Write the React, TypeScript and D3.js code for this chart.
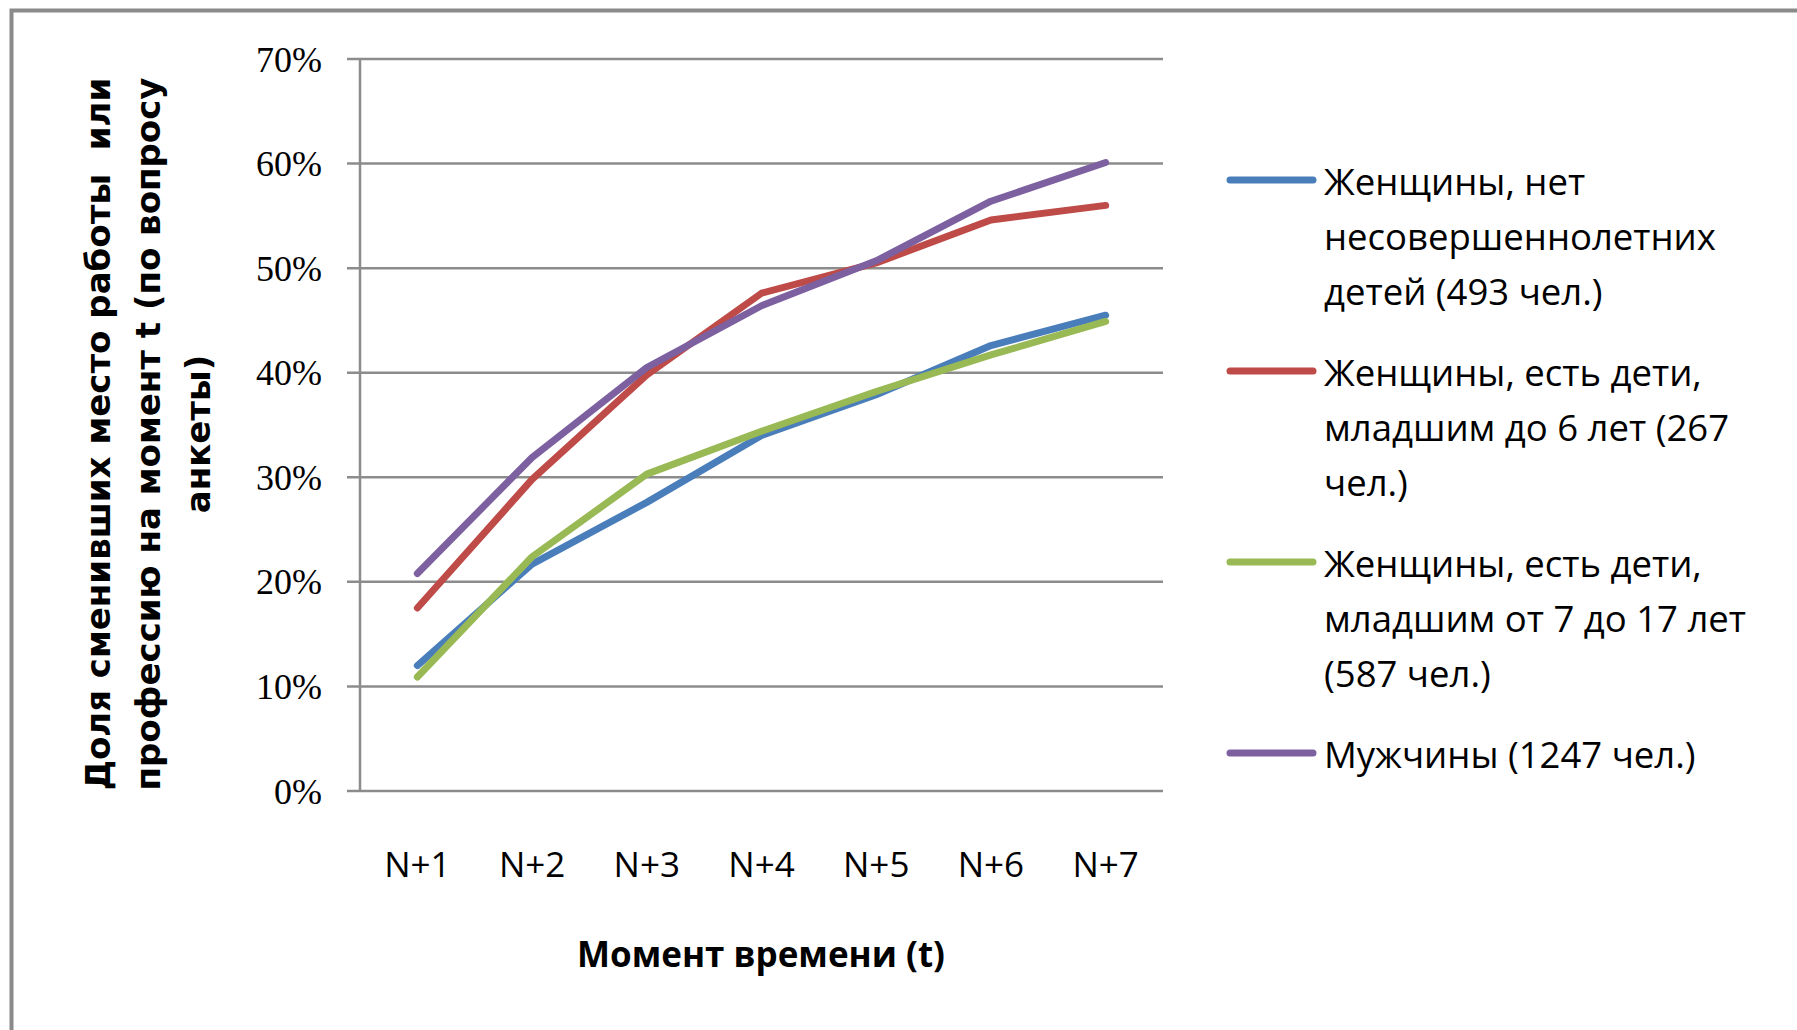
import React, { useEffect } from 'react';
import * as d3 from 'd3';

const categories = ['N+1', 'N+2', 'N+3', 'N+4', 'N+5', 'N+6', 'N+7'];
const yTicks = [0, 10, 20, 30, 40, 50, 60, 70];

const seriesNames = [
  ['Женщины, нет', 'несовершеннолетних', 'детей (493 чел.)'],
  ['Женщины, есть дети,', 'младшим до 6 лет (267', 'чел.)'],
  ['Женщины, есть дети,', 'младшим от 7 до 17 лет', '(587 чел.)'],
  ['Мужчины (1247 чел.)'],
];
const seriesColors = ['#4a7ebb', '#be4b48', '#98b954', '#7d60a0'];

const womenNoKids = [12.0, 21.7, 27.6, 34.0, 37.9, 42.6, 45.5];
const womenKidsUnder6 = [17.5, 29.8, 39.8, 47.6, 50.5, 54.6, 56.0];
const womenKids7to17 = [10.9, 22.4, 30.3, 34.4, 38.2, 41.7, 44.9];
const men = [20.8, 31.9, 40.5, 46.4, 50.7, 56.4, 60.1];

const seriesValues = [womenNoKids, womenKidsUnder6, womenKids7to17, men];

const yTitle = ['Доля сменивших место работы  или', 'профессию на момент t (по вопросу', 'анкеты)'];
const xTitle = 'Момент времени (t)';

const W = 1797;
const H = 1030;

const App: React.FC = () => {
  useEffect(() => {
    document.body.style.margin = '0';
  }, []);

  const x = d3.scaleBand<string>().domain(categories).range([360, 1163]).padding(0);
  const y = d3.scaleLinear().domain([0, 70]).range([791, 59]);
  const line = d3
    .line<number>()
    .x((_, i) => x(categories[i])! + x.bandwidth() / 2)
    .y(d => y(d));

  const gridColor = '#8c8c8c';
  const sans = '"Open Sans", sans-serif';

  // legend baselines: first line of each entry
  const legendTop = [195, 386, 577, 768];
  const lineGap = 55;

  return (
    <svg width={W} height={H} style={{ display: 'block', background: '#fff' }}>
      {/* outer frame */}
      <path d={`M11.5,${H + 10} L11.5,10.5 L${W + 10},10.5`} fill="none" stroke="#8a8a8a" strokeWidth={4} />

      {/* gridlines */}
      {yTicks.map(t => (
        <line key={t} x1={347} x2={1163} y1={y(t)} y2={y(t)} stroke={gridColor} strokeWidth={2.5} />
      ))}
      <line x1={360} x2={360} y1={y(70)} y2={y(0)} stroke={gridColor} strokeWidth={2.5} />

      {/* y tick labels */}
      {yTicks.map(t => (
        <text
          key={t}
          x={322}
          y={y(t)}
          dy="0.35em"
          textAnchor="end"
          fontFamily='"Liberation Serif", serif'
          fontSize={36}
          fill="#000"
        >
          {`${t}%`}
        </text>
      ))}

      {/* x tick labels */}
      {categories.map(c => (
        <text
          key={c}
          x={x(c)! + x.bandwidth() / 2}
          y={877}
          textAnchor="middle"
          fontFamily={sans}
          fontSize={35}
          fill="#000"
        >
          {c}
        </text>
      ))}

      {/* series */}
      {seriesValues.map((vals, i) => (
        <path
          key={i}
          d={line(vals)!}
          fill="none"
          stroke={seriesColors[i]}
          strokeWidth={7}
          strokeLinecap="round"
          strokeLinejoin="round"
        />
      ))}

      {/* axis titles */}
      <text
        x={761}
        y={967}
        textAnchor="middle"
        fontFamily={sans}
        fontWeight="bold"
        fontSize={35}
        fill="#000"
      >
        {xTitle}
      </text>
      <g transform="rotate(-90)">
        {yTitle.map((s, i) => (
          <text
            key={i}
            x={-434}
            y={110 + i * 50}
            textAnchor="middle"
            fontFamily='"DejaVu Sans", sans-serif'
            fontWeight="bold"
            fontSize={34}
            fill="#000"
            style={{ whiteSpace: 'pre' }}
          >
            {s}
          </text>
        ))}
      </g>

      {/* legend */}
      {seriesNames.map((lines, i) => (
        <g key={i}>
          <line
            x1={1230}
            x2={1313}
            y1={legendTop[i] - 15}
            y2={legendTop[i] - 15}
            stroke={seriesColors[i]}
            strokeWidth={7}
            strokeLinecap="round"
          />
          {lines.map((s, j) => (
            <text key={j} x={1324} y={legendTop[i] + j * lineGap} fontFamily={sans} fontSize={36.5} fill="#000">
              {s}
            </text>
          ))}
        </g>
      ))}
    </svg>
  );
};

export default App;
